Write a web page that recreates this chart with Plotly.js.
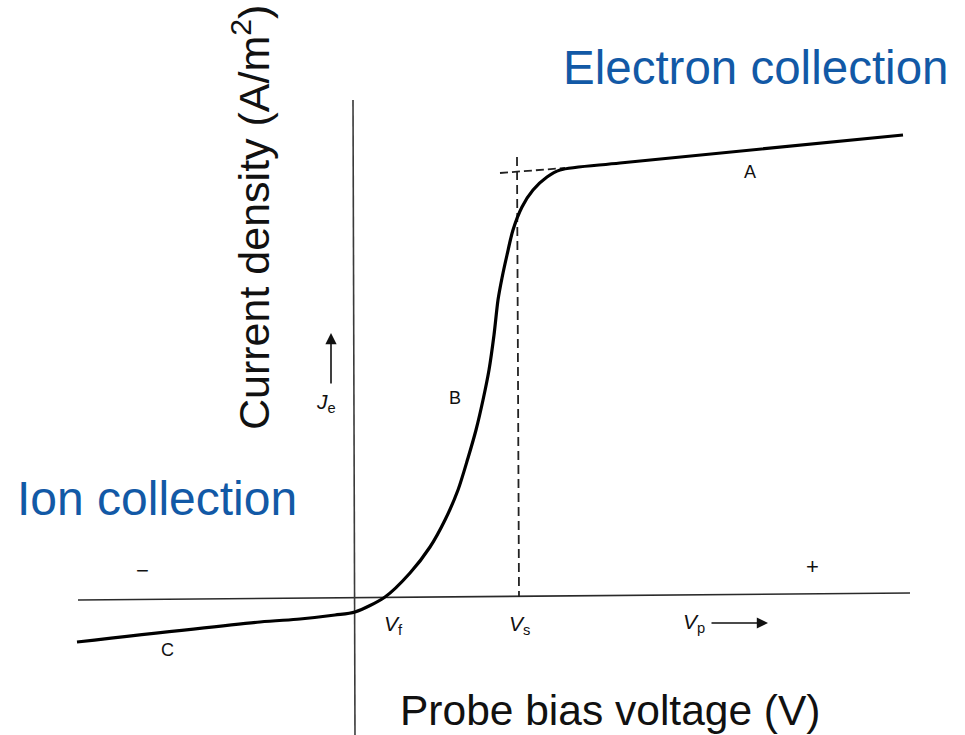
<!DOCTYPE html>
<html>
<head>
<meta charset="utf-8">
<script src="https://cdn.plot.ly/plotly-3.0.1.min.js"></script>
<style>html,body{margin:0;padding:0;background:#fff;}#chart{width:965px;height:735px;}</style>
</head>
<body>
<div id="chart"></div>
<script>
// Schematic Langmuir probe I-V characteristic (arbitrary units, origin at axes crossing)
const curveX = [-5.54, -1.88, -1.08, -0.38, 0.02, 0.62, 1.12, 1.52, 1.82, 2.08, 2.28, 2.44, 2.58, 2.70, 2.80, 2.88, 2.96, 3.06, 3.18, 3.36, 3.58, 3.86, 4.12, 5.32, 10.98];
const curveY = [-0.88, -0.48, -0.42, -0.34, -0.28, 0.02, 0.50, 1.02, 1.56, 2.16, 2.80, 3.36, 3.96, 4.56, 5.26, 5.96, 6.40, 6.86, 7.36, 7.82, 8.16, 8.42, 8.56, 8.70, 9.26];

const xAxisLineX = [-5.52, 11.12];
const xAxisLineY = [-0.04, 0.10];
const yAxisLineX = [-0.02, 0.02];
const yAxisLineY = [9.96, -2.74];

const satTangentX = [2.92, 4.22];
const satTangentY = [8.50, 8.60];
const vsLineX = [3.26, 3.30];
const vsLineY = [8.82, 0.02];

const regionLabels = ["A", "B", "C", "−", "+"];
const regionLabelX = [7.92, 2.02, -3.74, -4.24, 9.16];
const regionLabelY = [8.52, 4.00, -1.04, 0.56, 0.64];

const W = 965, H = 735, OX = 354, OY = 598, S = 50;
const xr = [-OX / S, (W - OX) / S];
const yr = [(OY - H) / S, OY / S];
function px(x){ return x / W; }
function py(y){ return 1 - y / H; }

const traces = [
  {x: xAxisLineX, y: xAxisLineY, mode: 'lines', line: {color: '#2a2a2a', width: 1.6}, hoverinfo: 'skip'},
  {x: yAxisLineX, y: yAxisLineY, mode: 'lines', line: {color: '#3a3a3a', width: 1.6}, hoverinfo: 'skip'},
  {x: satTangentX, y: satTangentY, mode: 'lines', line: {color: '#222', width: 1.8, dash: '8px,4px'}, hoverinfo: 'skip'},
  {x: vsLineX, y: vsLineY, mode: 'lines', line: {color: '#222', width: 1.8, dash: '9px,5px'}, hoverinfo: 'skip'},
  {x: curveX, y: curveY, mode: 'lines', line: {color: '#000', width: 3.2, shape: 'spline', smoothing: 0.8}, hoverinfo: 'skip'}
];

const font = 'Liberation Sans, Arial, sans-serif';
const C = {xanchor: 'center', yanchor: 'middle', showarrow: false};
const annotations = [];
regionLabels.forEach((t, i) => {
  annotations.push(Object.assign({x: regionLabelX[i], y: regionLabelY[i], xref: 'x', yref: 'y', text: t,
    font: {family: font, size: (t === '−' || t === '+') ? 22 : 18, color: '#111'}}, C));
});
annotations.push(
  Object.assign({x: px(393), y: py(625), xref: 'paper', yref: 'paper', text: '<i>V</i><sub>f</sub>', font: {family: font, size: 21, color: '#111'}}, C),
  Object.assign({x: px(519), y: py(625), xref: 'paper', yref: 'paper', text: '<i>V</i><sub>s</sub>', font: {family: font, size: 21, color: '#111'}}, C),
  Object.assign({x: px(694), y: py(623), xref: 'paper', yref: 'paper', text: '<i>V</i><sub>p</sub>', font: {family: font, size: 21, color: '#111'}}, C),
  {x: px(768), y: py(623), xref: 'paper', yref: 'paper', ax: -58, ay: 0, text: '', showarrow: true, arrowhead: 2, arrowsize: 1.4, arrowwidth: 1.6, arrowcolor: '#111'},
  Object.assign({x: px(326), y: py(403), xref: 'paper', yref: 'paper', text: '<i>J</i><sub>e</sub>', font: {family: font, size: 21, color: '#111'}}, C),
  {x: px(331), y: py(333), xref: 'paper', yref: 'paper', ax: 0, ay: 52, text: '', showarrow: true, arrowhead: 2, arrowsize: 1.4, arrowwidth: 1.6, arrowcolor: '#111'},
  Object.assign({x: px(755), y: py(67), xref: 'paper', yref: 'paper', text: 'Electron collection', font: {family: font, size: 47.5, color: '#1259a6'}}, C),
  Object.assign({x: px(157), y: py(498), xref: 'paper', yref: 'paper', text: 'Ion collection', font: {family: font, size: 48, color: '#1259a6'}}, C),
  Object.assign({x: px(610), y: py(710), xref: 'paper', yref: 'paper', text: 'Probe bias voltage (V)', font: {family: font, size: 42.5, color: '#111'}}, C),
  Object.assign({x: px(251), y: py(218), xref: 'paper', yref: 'paper', text: 'Current density (A/m<sup>2</sup>)', textangle: -90, font: {family: font, size: 43, color: '#111'}}, C)
);

const layout = {
  width: W, height: H,
  margin: {l: 0, r: 0, t: 0, b: 0, pad: 0},
  paper_bgcolor: '#fff', plot_bgcolor: '#fff',
  showlegend: false,
  xaxis: {range: xr, visible: false, fixedrange: true},
  yaxis: {range: yr, visible: false, fixedrange: true},
  annotations: annotations
};

Plotly.newPlot('chart', traces, layout, {displayModeBar: false, staticPlot: true});
</script>
</body>
</html>
